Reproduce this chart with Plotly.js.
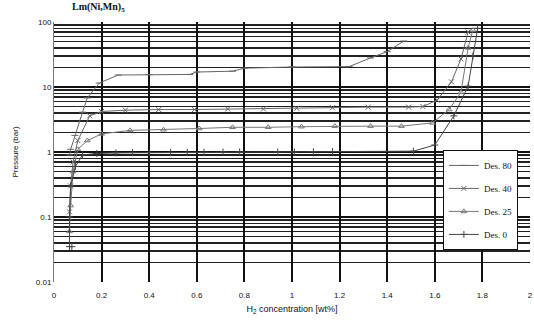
<!DOCTYPE html>
<html>
<head>
<meta charset="utf-8">
<script src="https://cdn.plot.ly/plotly-3.0.1.min.js"></script>
<style>html,body{margin:0;padding:0;background:#fff;}#chart{width:534px;height:325px;}</style>
</head>
<body>
<div id="chart"></div>
<script>
// Desorption isotherms, Lm(Ni,Mn)5
const seriesNames = ["Des. 80", "Des. 40", "Des. 25", "Des. 0"];

const x80 = [1.47, 1.40, 1.33, 1.24, 1.00, 0.80, 0.75, 0.60, 0.57, 0.40, 0.27, 0.19, 0.14, 0.12, 0.088, 0.07, 0.065];
const p80 = [51, 35, 28, 20.6, 20.3, 19.5, 17.5, 17, 15.6, 15.5, 15.3, 11.5, 6.8, 4.1, 1.8, 1.1, 0.9];

const x40 = [1.74, 1.71, 1.67, 1.61, 1.55, 1.49, 1.32, 1.17, 1.02, 0.88, 0.73, 0.59, 0.44, 0.30, 0.20, 0.15, 0.10, 0.08, 0.07, 0.065];
const p40 = [70, 27, 12, 6.3, 5.0, 4.9, 4.9, 4.8, 4.7, 4.6, 4.6, 4.5, 4.5, 4.4, 4.2, 3.6, 1.5, 0.7, 0.3, 0.12];

const x25 = [1.76, 1.74, 1.71, 1.66, 1.59, 1.46, 1.33, 1.18, 1.04, 0.90, 0.75, 0.61, 0.46, 0.32, 0.20, 0.14, 0.10, 0.08, 0.07, 0.065];
const p25 = [75, 40, 8.3, 4.5, 2.8, 2.5, 2.5, 2.5, 2.45, 2.4, 2.4, 2.3, 2.2, 2.15, 1.9, 1.5, 1.1, 0.5, 0.15, 0.06];

const x0 = [1.78, 1.76, 1.74, 1.68, 1.60, 1.51, 1.17, 1.09, 1.01, 0.94, 0.78, 0.71, 0.63, 0.56, 0.49, 0.40, 0.33, 0.26, 0.18, 0.12, 0.09, 0.07, 0.065, 0.065, 0.075];
const p0 = [80, 30, 10.3, 3.6, 1.28, 1.03, 1.02, 1.01, 1.0, 1.0, 1.0, 1.0, 0.99, 0.99, 0.99, 0.98, 0.98, 0.97, 0.95, 0.9, 0.6, 0.3, 0.1, 0.035, 0.035];

const xTicks = [0, 0.2, 0.4, 0.6, 0.8, 1, 1.2, 1.4, 1.6, 1.8, 2];
const xTickText = ["0", "0.2", "0.4", "0.6", "0.8", "1", "1.2", "1.4", "1.6", "1.8", "2"];
const yTicks = [0.01, 0.1, 1, 10, 100];
const yTickText = ["0.01", "0.1", "1", "10", "100"];

const xs = [x80, x40, x25, x0];
const ps = [p80, p40, p25, p0];
const symbols = ["line-ew-open", "x-thin-open", "triangle-up-open", "cross-thin-open"];
const colors = ["#666", "#666", "#777", "#444"];

const traces = xs.map((x, i) => ({
  x: x, y: ps[i], name: seriesNames[i], type: "scatter", mode: "lines+markers",
  legendgroup: "g" + i,
  line: {color: colors[i], width: 1},
  marker: {symbol: symbols[i], size: 5, color: colors[i], line: {color: colors[i], width: 1}}
}));

const layout = {
  width: 534, height: 325,
  margin: {l: 54, r: 4, t: 22, b: 43},
  paper_bgcolor: "#fff", plot_bgcolor: "#fff",
  font: {family: "Liberation Sans, Arial, sans-serif", size: 9, color: "#111"},
  title: {text: "<b>Lm(Ni,Mn)<sub>5</sub></b>", x: 72/534, xanchor: "left", y: 0.99, yanchor: "top",
          font: {family: "Liberation Serif, serif", size: 10, color: "#111"}},
  showlegend: true,
  legend: {x: 0.817, y: 0.508, xanchor: "left", yanchor: "top", bgcolor: "#fff",
           bordercolor: "#111", borderwidth: 1, font: {size: 9, family: "Liberation Serif, serif"},
           traceorder: "grouped", tracegroupgap: 4},
  xaxis: {range: [0, 2], tickvals: xTicks, ticktext: xTickText, showgrid: true, gridcolor: "#111", gridwidth: 2,
          zeroline: false, showline: false, ticks: "", tickfont: {size: 8}, ticklabelstandoff: 7,
          title: {text: "H<sub>2</sub> concentration [wt%]", font: {size: 9}, standoff: 6}},
  yaxis: {type: "log", range: [-2, 2], tickvals: yTicks, ticktext: yTickText, showgrid: true, gridcolor: "#111", gridwidth: 2,
          minor: {dtick: "D1", showgrid: true, gridcolor: "#222", gridwidth: 1.5, ticks: ""},
          zeroline: false, showline: true, linecolor: "#777", linewidth: 1, ticks: "", tickfont: {size: 8},
          title: {text: "Pressure (bar)", font: {size: 8}, standoff: 16}}
};

Plotly.newPlot("chart", traces, layout, {staticPlot: true, displayModeBar: false});
</script>
</body>
</html>
